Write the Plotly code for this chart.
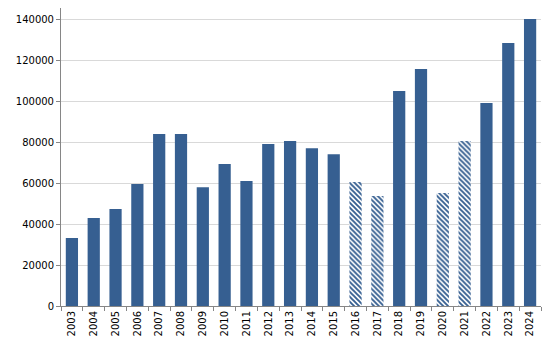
import plotly.graph_objects as go

years = [str(y) for y in range(2003, 2025)]
values = [33200, 42900, 47300, 59500, 83900, 83900, 58000, 69300, 61000, 79000,
          80500, 77000, 74100, 60500, 53700, 104900, 115600, 55100, 80500, 99000,
          128300, 140000]
hatched_years = ["2016", "2017", "2020", "2021"]

blue = "#365F91"
shapes = ["\\" if y in hatched_years else "" for y in years]

fig = go.Figure()
fig.add_trace(go.Bar(
    x=years, y=values,
    marker=dict(
        color=blue,
        line=dict(width=0),
        pattern=dict(shape=shapes, fgcolor=blue, bgcolor="white",
                     size=3.5, solidity=0.55, fillmode="replace"),
    ),
    width=0.56,
))

fig.update_layout(
    width=551, height=353,
    margin=dict(l=61, r=10, t=8, b=47),
    paper_bgcolor="white", plot_bgcolor="white",
    font=dict(family="DejaVu Sans", size=10, color="#000000"),
    showlegend=False,
    xaxis=dict(
        type="category", tickangle=-90, showline=True, linecolor="#868686",
        ticks="outside", tickson="boundaries", ticklen=4, tickcolor="#868686",
        showgrid=False, range=[-0.5, 21.5],
    ),
    yaxis=dict(
        range=[0, 145400], tickvals=list(range(0, 140001, 20000)),
        ticktext=[str(v) for v in range(0, 140001, 20000)],
        showline=True, linecolor="#868686", ticks="outside", ticklen=4,
        tickcolor="#868686", showgrid=True, gridcolor="#D9D9D9",
        zeroline=False,
    ),
)

fig.write_html("out.html")
